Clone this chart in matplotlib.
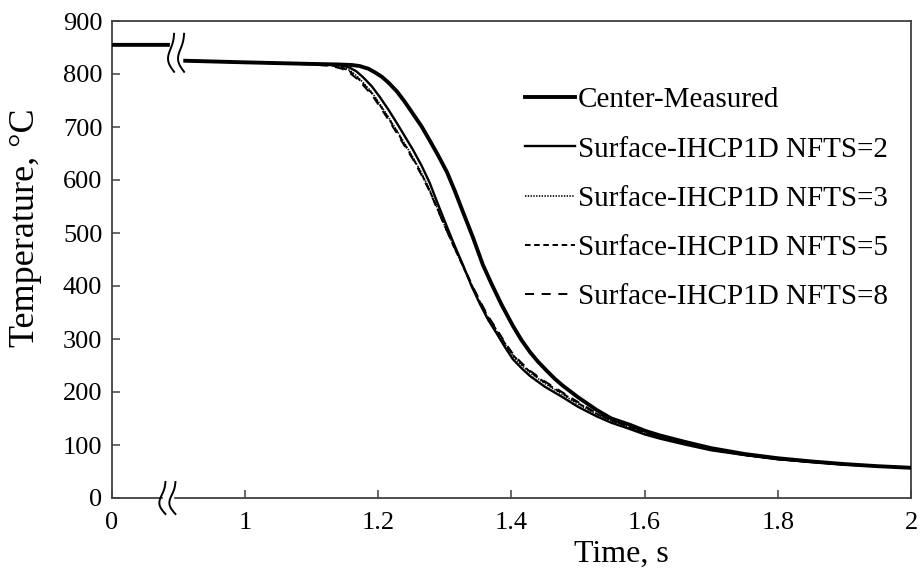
import numpy as np
import matplotlib
matplotlib.use('Agg')
import matplotlib.pyplot as plt
from matplotlib.transforms import IdentityTransform

plt.rcParams['font.family'] = ['Liberation Serif', 'DejaVu Serif']
plt.rcParams['lines.scale_dashes'] = False

# ---- data (x axis: 0.8 shown as "0", broken axis) ----
t_pre = [0.80, 0.884]
T_pre = [855, 855]

t_center = [0.91, 1.0, 1.1, 1.14, 1.16, 1.172, 1.185, 1.195, 1.205, 1.215,
            1.228, 1.24, 1.252, 1.265, 1.277, 1.29, 1.303, 1.315, 1.327, 1.342,
            1.357, 1.37, 1.385, 1.402, 1.415, 1.428, 1.44, 1.453, 1.465, 1.477,
            1.5, 1.528, 1.55, 1.578, 1.6, 1.623, 1.66, 1.7, 1.75, 1.8,
            1.85, 1.9, 1.95, 2.0]
T_center = [825, 822, 819, 818, 817, 815, 810, 803, 795, 784,
            767, 747, 725, 701, 675, 646, 615, 579, 540, 492,
            440, 404, 365, 325, 298, 275, 257, 240, 225, 212,
            190, 166, 150, 138, 127, 118, 106, 94, 83, 75,
            69, 64, 60, 57]

t_surf = [0.91, 1.0, 1.1, 1.13, 1.145, 1.157, 1.167, 1.177, 1.19, 1.202,
          1.215, 1.228, 1.24, 1.252, 1.265, 1.277, 1.29, 1.303, 1.315, 1.327,
          1.34, 1.353, 1.365, 1.378, 1.39, 1.402, 1.415, 1.428, 1.45, 1.477,
          1.5, 1.528, 1.55, 1.578, 1.6, 1.623, 1.66, 1.7, 1.75, 1.8,
          1.85, 1.9, 1.95, 2.0]
T_nfts2 = [825, 822, 819, 818, 816, 812, 805, 794, 777, 757,
           733, 707, 682, 657, 627, 595, 553, 512, 475, 440,
           400, 365, 336, 310, 285, 262, 245, 230, 210, 190,
           172, 154, 142, 130, 120, 112, 101, 90, 81, 73,
           68, 63, 60, 57]
T_nfts3 = [825, 822, 819, 817, 813, 807, 797, 784, 766, 744,
           719, 693, 668, 643, 613, 582, 543, 504, 470, 437,
           400, 367, 339, 314, 290, 268, 251, 236, 216, 195,
           177, 158, 145, 133, 122, 114, 102, 91, 81, 73,
           68, 63, 60, 57]
T_nfts5 = [825, 822, 819, 816, 812, 805, 795, 782, 764, 742,
           717, 691, 666, 641, 611, 580, 542, 504, 470, 438,
           402, 369, 341, 316, 292, 270, 253, 238, 218, 197,
           179, 159, 146, 134, 123, 115, 103, 91, 81, 73,
           68, 63, 60, 57]
T_nfts8 = [825, 822, 818, 815, 810, 802, 792, 779, 761, 739,
           714, 688, 663, 639, 609, 579, 541, 504, 471, 439,
           404, 371, 343, 318, 294, 272, 255, 240, 220, 199,
           181, 160, 147, 135, 124, 116, 103, 92, 82, 73,
           68, 63, 60, 57]

labels = ['Center-Measured', 'Surface-IHCP1D NFTS=2', 'Surface-IHCP1D NFTS=3',
          'Surface-IHCP1D NFTS=5', 'Surface-IHCP1D NFTS=8']
xtick_vals = [0.8, 1.0, 1.2, 1.4, 1.6, 1.8, 2.0]
xtick_labels = ['0', '1', '1.2', '1.4', '1.6', '1.8', '2']
ytick_vals = [0, 100, 200, 300, 400, 500, 600, 700, 800, 900]

W, H = 923, 582
fig = plt.figure(figsize=(W / 100, H / 100), dpi=100)
ax = fig.add_axes([112 / W, 84 / H, 799 / W, 477 / H])

def join(tp, Tp, t, T):
    return list(tp) + [np.nan] + list(t), list(Tp) + [np.nan] + list(T)

styles = [
    dict(color='black', lw=2.8, ls='-'),
    dict(color='black', lw=1.7, ls='-'),
    dict(color='black', lw=1.2, ls=(0, (1.0, 1.0))),
    dict(color='black', lw=1.4, ls=(0, (4.0, 2.6))),
    dict(color='black', lw=1.4, ls=(0, (6.5, 5.5))),
]
series = [(t_center, T_center), (t_surf, T_nfts2), (t_surf, T_nfts3),
          (t_surf, T_nfts5), (t_surf, T_nfts8)]
handles = [None] * 5
for i in [4, 3, 2, 1, 0]:
    x, y = join(t_pre, T_pre, *series[i])
    h, = ax.plot(x, y, label=labels[i], zorder=3 + (5 - i) * 0.1,
                 solid_joinstyle='round', **styles[i])
    handles[i] = h

ax.set_xlim(0.8, 2.0)
ax.set_ylim(0, 900)
ax.set_xticks(xtick_vals)
ax.set_xticklabels(xtick_labels)
ax.set_yticks(ytick_vals)
ax.tick_params(direction='in', length=6, width=1.1, color='#404040',
               labelsize=19, pad=7)
ax.tick_params(axis='x', pad=10)
for s in ax.spines.values():
    s.set_color('#404040')
    s.set_linewidth(1.3)

ax.set_xlabel('Time, s', fontsize=23)
ax.set_ylabel('Temperature, °C', fontsize=26)
ax.xaxis.set_label_coords(0.638, -0.088)
ax.yaxis.set_label_coords(-0.088, 0.566)

ax.legend(handles=handles, loc='upper left', bbox_to_anchor=(525 / W, (582 - 87) / H),
          bbox_transform=fig.transFigure, frameon=False, fontsize=21,
          handlelength=1.7, handletextpad=0.1, labelspacing=0.78,
          borderpad=0, borderaxespad=0)

# ---- break marks ----
def break_mark(xd, yd, half_h, sep, gap_white=True):
    cx, cy = ax.transData.transform((xd, yd))
    u = np.linspace(0, 1, 80)
    yy = cy + half_h * (1 - 2 * u)
    off = -5.0 * np.sin(np.pi * u) + 2.0 * np.sin(2 * np.pi * u) + 2.5
    if gap_white:
        fig.patches.append(plt.Rectangle((cx - sep / 2, cy - 3), sep, 6,
                                         transform=IdentityTransform(), color='white',
                                         zorder=10))
    for dx in (-sep / 2, sep / 2):
        ln = plt.Line2D(cx + dx + off, yy, transform=IdentityTransform(),
                        color='black', lw=1.4, zorder=11)
        fig.lines.append(ln)

break_mark(0.897, 840, 19, 10, gap_white=False)
break_mark(0.884, 0, 16, 10, gap_white=True)

fig.savefig('out.png', dpi=100)
